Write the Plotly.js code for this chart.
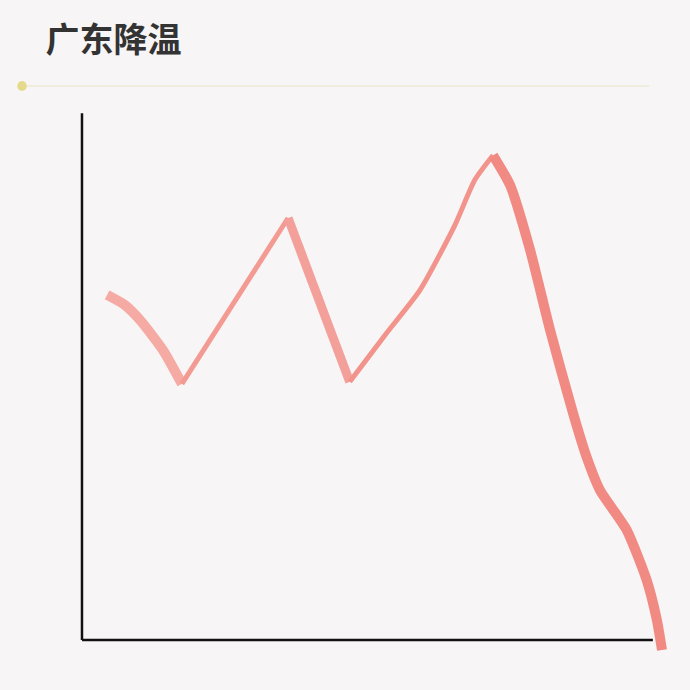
<!DOCTYPE html>
<html>
<head>
<meta charset="utf-8">
<script src="https://cdn.plot.ly/plotly-3.0.1.min.js"></script>
<style>
html,body{margin:0;padding:0;background:#f8f5f6;}
#chart{width:690px;height:690px;}
</style>
</head>
<body>
<div id="chart"></div>
<script>
// Data (hand-drawn curve)
const days = [4.4, 7.5, 10.2, 14.2, 17.5, 26.8, 36.1, 41.7, 46.9, 53.1, 59.2, 65.3, 68.8, 72.0, 75.0, 78.5, 82.0, 86.0, 88.4, 90.7, 95.4, 98.9, 100.7, 101.6];
const temps = [65.5, 63.6, 60.7, 55.0, 48.6, 64.5, 80.1, 64.5, 49.0, 57.9, 66.4, 78.7, 87.3, 92.0, 86.3, 74.0, 58.8, 43.1, 34.7, 28.5, 20.9, 11.4, 3.8, -1.9];
const titleText = '广东降温';

// stroke segments (index ranges) to imitate a brush
const segments = [
  {from: 0, to: 4, width: 10, color: '#f5aaa4', shape: 'spline'},
  {from: 4, to: 6, width: 5, color: '#f39a92', shape: 'linear'},
  {from: 6, to: 8, width: 9, color: '#f4a09a', shape: 'linear'},
  {from: 8, to: 13, width: 5, color: '#f2948c', shape: 'spline'},
  {from: 13, to: days.length - 1, width: 10, color: '#f08a82', shape: 'spline'}
];

const traces = segments.map(s => ({
  type: 'scatter', mode: 'lines',
  x: days.slice(s.from, s.to + 1),
  y: temps.slice(s.from, s.to + 1),
  line: {color: s.color, width: s.width, shape: s.shape, smoothing: 0.6},
  hoverinfo: 'skip', showlegend: false
}));

const layout = {
  width: 690, height: 690,
  paper_bgcolor: '#f8f5f6', plot_bgcolor: 'rgba(0,0,0,0)',
  margin: {l: 70, r: 20, t: 100, b: 30},
  title: {
    text: '<b>' + titleText + '</b>', xref: 'container', yref: 'container',
    x: 0.066, xanchor: 'left', y: 0.942, yanchor: 'middle',
    font: {family: 'Noto Sans CJK SC, sans-serif', size: 34, color: '#333333'}
  },
  xaxis: {range: [-2.1, 103.0], visible: false, fixedrange: true},
  yaxis: {range: [-3.8, 102.5], visible: false, fixedrange: true},
  shapes: [
    {type: 'line', xref: 'x', yref: 'y', x0: 0, x1: 0, y0: 0, y1: 100, line: {color: '#111111', width: 2.5}},
    {type: 'line', xref: 'x', yref: 'y', x0: 0, x1: 100, y0: 0, y1: 0, line: {color: '#111111', width: 2.5}},
    {type: 'line', xref: 'paper', yref: 'paper', x0: -0.075, x1: 0.965, y0: 1.025, y1: 1.025, line: {color: '#efead6', width: 1.5}},
    {type: 'circle', xref: 'paper', yref: 'paper', x0: -0.088, x1: -0.072, y0: 1.016, y1: 1.034, fillcolor: '#e5da8c', line: {width: 0}}
  ]
};

Plotly.newPlot('chart', traces, layout, {displayModeBar: false, staticPlot: true});
</script>
</body>
</html>
